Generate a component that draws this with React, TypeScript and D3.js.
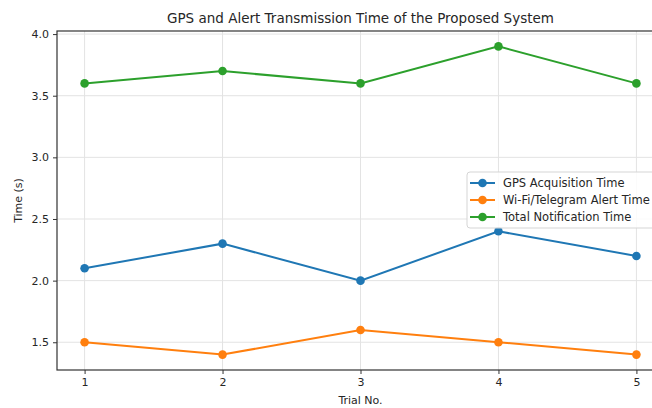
import { useEffect, useRef } from 'react';
import * as d3 from 'd3';

// chart values
const trials = [1, 2, 3, 4, 5];
const gpsTime = [2.1, 2.3, 2.0, 2.4, 2.2];
const alertTime = [1.5, 1.4, 1.6, 1.5, 1.4];
const totalTime = [3.6, 3.7, 3.6, 3.9, 3.6];
const yTicks = [1.5, 2.0, 2.5, 3.0, 3.5, 4.0];
const seriesNames = ['GPS Acquisition Time', 'Wi-Fi/Telegram Alert Time', 'Total Notification Time'];
const seriesColors = ['#1f77b4', '#ff7f0e', '#2ca02c'];

const W = 652;
const H = 408;

const App = () => {
  const ref = useRef<SVGSVGElement>(null);

  useEffect(() => {
    const svg = d3.select(ref.current);
    svg.selectAll('*').remove();

    const margin = { top: 31, right: -12, bottom: 38, left: 57 };
    const width = W - margin.left - margin.right;
    const height = H - margin.top - margin.bottom;
    const font = 'DejaVu Sans, sans-serif';
    const textColor = '#262626';

    const g = svg.append('g').attr('transform', `translate(${margin.left},${margin.top})`);

    const x = d3.scaleLinear().domain([0.8, 5.2]).range([0, width]);
    const y = d3.scaleLinear().domain([1.275, 4.025]).range([height, 0]);

    // grid
    g.append('g')
      .selectAll('line')
      .data(trials)
      .enter()
      .append('line')
      .attr('x1', (d) => x(d))
      .attr('x2', (d) => x(d))
      .attr('y1', 0)
      .attr('y2', height)
      .attr('stroke', '#e3e3e3')
      .attr('stroke-width', 1);
    g.append('g')
      .selectAll('line')
      .data(yTicks)
      .enter()
      .append('line')
      .attr('x1', 0)
      .attr('x2', width)
      .attr('y1', (d) => y(d))
      .attr('y2', (d) => y(d))
      .attr('stroke', '#e3e3e3')
      .attr('stroke-width', 1);

    // axes
    const xAxis = g.append('g')
      .attr('transform', `translate(0,${height})`)
      .call(d3.axisBottom(x).tickValues(trials).tickFormat(d3.format('d')).tickSize(4).tickPadding(4));
    const yAxis = g.append('g')
      .call(d3.axisLeft(y).tickValues(yTicks).tickFormat(d3.format('.1f')).tickSize(4).tickPadding(4));
    [xAxis, yAxis].forEach((a) => {
      a.select('.domain').remove();
      a.selectAll('line').attr('stroke', '#333').attr('stroke-width', 1);
      a.selectAll('text').attr('font-family', font).attr('font-size', 11).attr('fill', textColor);
    });

    // spines
    g.append('rect')
      .attr('x', 0)
      .attr('y', 0)
      .attr('width', width)
      .attr('height', height)
      .attr('fill', 'none')
      .attr('stroke', '#333')
      .attr('stroke-width', 1.2);

    // lines + markers
    const allSeries = [gpsTime, alertTime, totalTime];
    const line = d3.line<number>().x((_, i) => x(trials[i])).y((d) => y(d));
    allSeries.forEach((vals, s) => {
      g.append('path')
        .datum(vals)
        .attr('d', line)
        .attr('fill', 'none')
        .attr('stroke', seriesColors[s])
        .attr('stroke-width', 2);
      g.append('g')
        .selectAll('circle')
        .data(vals)
        .enter()
        .append('circle')
        .attr('cx', (_, i) => x(trials[i]))
        .attr('cy', (d) => y(d))
        .attr('r', 4.3)
        .attr('fill', seriesColors[s]);
    });

    // legend (runs past the right edge, as in the source image)
    const lg = svg.append('g').attr('transform', 'translate(467,172)');
    lg.append('rect')
      .attr('width', 200)
      .attr('height', 56)
      .attr('rx', 3)
      .attr('fill', 'rgba(255,255,255,0.85)')
      .attr('stroke', '#d5d5d5');
    seriesNames.forEach((name, i) => {
      const row = lg.append('g').attr('transform', `translate(0,${11 + i * 17})`);
      row.append('line')
        .attr('x1', 3).attr('x2', 28)
        .attr('stroke', seriesColors[i]).attr('stroke-width', 2);
      row.append('circle').attr('cx', 15.5).attr('r', 4.3).attr('fill', seriesColors[i]);
      row.append('text')
        .attr('x', 36)
        .attr('dy', '0.35em')
        .attr('font-family', font)
        .attr('font-size', 11.5)
        .attr('fill', textColor)
        .text(name);
    });

    // title and labels
    svg.append('text')
      .attr('x', margin.left + width / 2)
      .attr('y', 23)
      .attr('text-anchor', 'middle')
      .attr('font-family', font)
      .attr('font-size', 13.5)
      .attr('fill', textColor)
      .text('GPS and Alert Transmission Time of the Proposed System');
    svg.append('text')
      .attr('x', margin.left + width / 2)
      .attr('y', 404)
      .attr('text-anchor', 'middle')
      .attr('font-family', font)
      .attr('font-size', 11)
      .attr('fill', textColor)
      .text('Trial No.');
    svg.append('text')
      .attr('transform', `translate(22,${margin.top + height / 2}) rotate(-90)`)
      .attr('text-anchor', 'middle')
      .attr('font-family', font)
      .attr('font-size', 11)
      .attr('fill', textColor)
      .text('Time (s)');
  }, []);

  return (
    <svg
      ref={ref}
      width={W}
      height={H}
      style={{ position: 'absolute', left: 0, top: 0, background: '#fff', display: 'block' }}
    />
  );
};

export default App;
